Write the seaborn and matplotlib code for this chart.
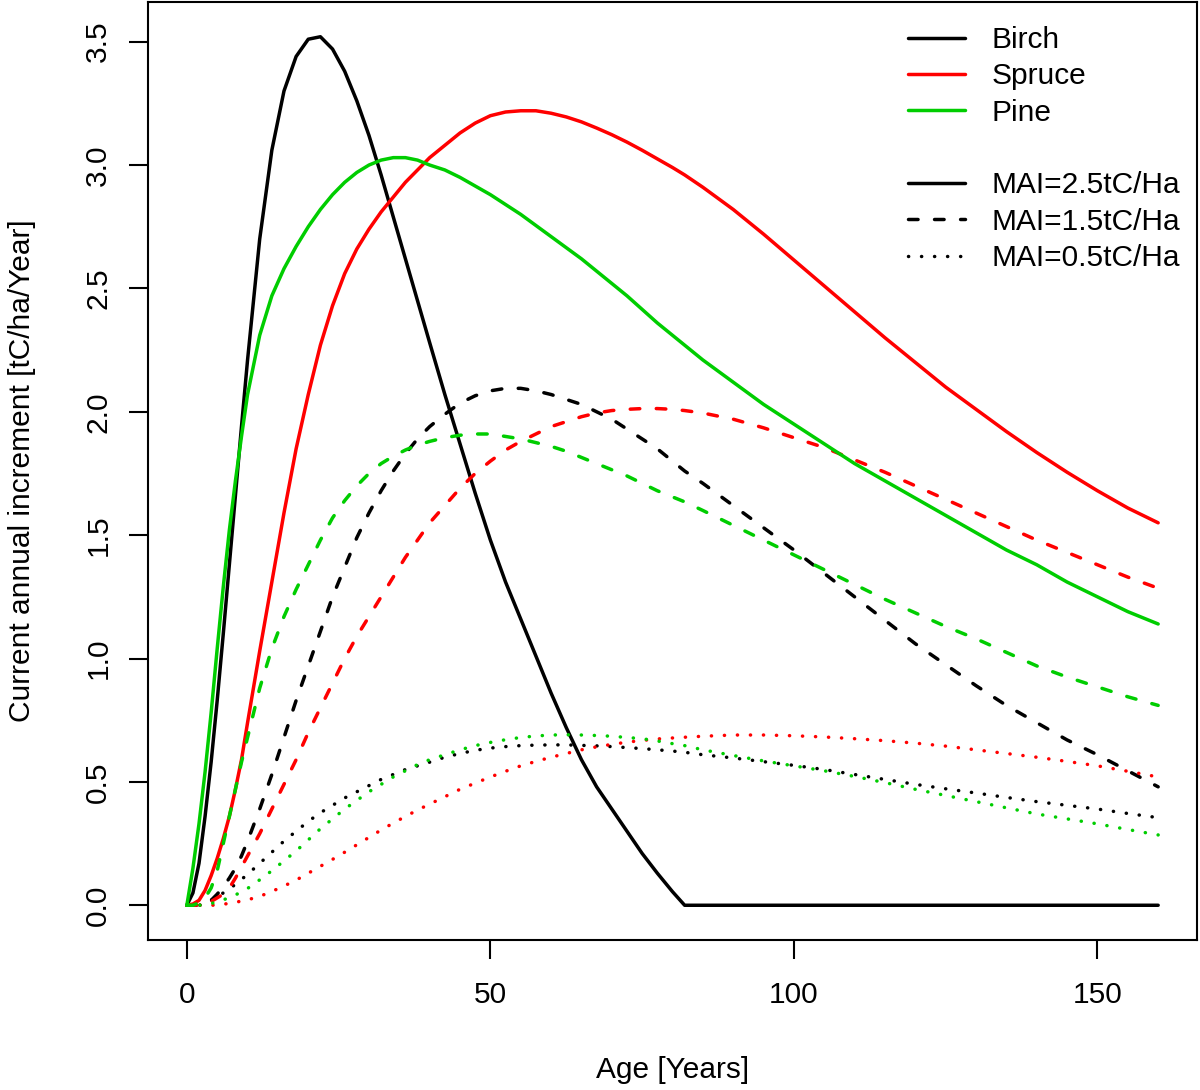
import numpy as np
import pandas as pd
import matplotlib
matplotlib.use("Agg")
import matplotlib.pyplot as plt
from matplotlib.lines import Line2D
import seaborn as sns

# ---------------- data ----------------
ages = ([0, 1, 2, 3, 4, 5, 6, 7, 8, 9, 10]
        + [12, 14, 16, 18, 20, 22, 24, 26, 28, 30, 32, 34, 36, 38, 40]
        + [42.5, 45, 47.5, 50, 52.5, 55, 57.5, 60, 62.5, 65, 67.5, 70, 72.5,
           75, 77.5, 80]
        + [82, 85, 90, 95, 100, 105, 110, 115, 120, 125, 130, 135, 140, 145,
           150, 155, 160])

birch_25 = ([0, 0.05, 0.17, 0.36, 0.58, 0.83, 1.10, 1.38, 1.66, 1.94, 2.21]
            + [2.70, 3.06, 3.30, 3.44, 3.51, 3.52, 3.47, 3.38, 3.26, 3.12, 2.96,
               2.79, 2.62, 2.45, 2.28]
            + [2.07, 1.87, 1.67, 1.48, 1.31, 1.16, 1.01, 0.86, 0.72, 0.59, 0.48,
               0.39, 0.30, 0.21, 0.13, 0.055]
            + [0, 0, 0, 0, 0, 0, 0, 0, 0, 0, 0, 0, 0, 0, 0, 0, 0])
spruce_25 = ([0, 0.005, 0.02, 0.06, 0.12, 0.19, 0.27, 0.36, 0.47, 0.59, 0.74]
             + [1.03, 1.31, 1.59, 1.85, 2.07, 2.27, 2.43, 2.56, 2.66, 2.74, 2.81,
                2.87, 2.93, 2.98, 3.03]
             + [3.08, 3.13, 3.17, 3.20, 3.215, 3.22, 3.22, 3.21, 3.195, 3.175,
                3.15, 3.123, 3.093, 3.06, 3.025, 2.99]
             + [2.96, 2.91, 2.82, 2.72, 2.615, 2.51, 2.405, 2.30, 2.20, 2.10,
                2.01, 1.92, 1.835, 1.755, 1.68, 1.61, 1.55])
pine_25 = ([0, 0.15, 0.33, 0.54, 0.78, 1.04, 1.29, 1.52, 1.72, 1.90, 2.07]
           + [2.31, 2.47, 2.58, 2.67, 2.75, 2.82, 2.88, 2.93, 2.97, 3.00, 3.02,
              3.03, 3.03, 3.02, 3.00]
           + [2.98, 2.95, 2.915, 2.88, 2.84, 2.80, 2.755, 2.71, 2.665, 2.62,
              2.57, 2.52, 2.47, 2.415, 2.36, 2.31]
           + [2.27, 2.21, 2.12, 2.03, 1.95, 1.87, 1.79, 1.72, 1.65, 1.58, 1.51,
              1.44, 1.38, 1.31, 1.25, 1.19, 1.14])

birch_15 = ([0, 0, 0, 0.005, 0.02, 0.045, 0.075, 0.11, 0.15, 0.20, 0.26]
            + [0.39, 0.53, 0.68, 0.83, 0.97, 1.11, 1.25, 1.37, 1.49, 1.59, 1.68,
               1.76, 1.83, 1.89, 1.94]
            + [1.99, 2.035, 2.065, 2.085, 2.095, 2.095, 2.085, 2.07, 2.05, 2.03,
               2.00, 1.97, 1.93, 1.89, 1.85, 1.80]
            + [1.76, 1.71, 1.62, 1.53, 1.44, 1.345, 1.25, 1.155, 1.06, 0.975,
               0.89, 0.81, 0.74, 0.67, 0.61, 0.545, 0.48])
spruce_15 = ([0, 0, 0, 0.005, 0.015, 0.03, 0.045, 0.07, 0.11, 0.155, 0.20]
             + [0.29, 0.39, 0.49, 0.59, 0.70, 0.80, 0.90, 1.00, 1.09, 1.17, 1.25,
                1.33, 1.41, 1.48, 1.55]
             + [1.62, 1.69, 1.75, 1.80, 1.845, 1.88, 1.91, 1.94, 1.96, 1.98,
                1.995, 2.005, 2.01, 2.013, 2.013, 2.01]
             + [2.005, 1.995, 1.97, 1.935, 1.895, 1.855, 1.805, 1.755, 1.70,
                1.645, 1.59, 1.535, 1.48, 1.43, 1.38, 1.33, 1.285])
pine_15 = ([0, 0, 0.01, 0.03, 0.07, 0.14, 0.25, 0.36, 0.47, 0.58, 0.68]
           + [0.88, 1.04, 1.17, 1.28, 1.38, 1.48, 1.57, 1.64, 1.70, 1.75, 1.79,
              1.82, 1.845, 1.865, 1.88]
           + [1.895, 1.905, 1.91, 1.91, 1.90, 1.89, 1.875, 1.86, 1.84, 1.815,
              1.79, 1.765, 1.74, 1.71, 1.68, 1.655]
           + [1.635, 1.60, 1.54, 1.48, 1.42, 1.36, 1.30, 1.24, 1.185, 1.13, 1.08,
              1.025, 0.97, 0.925, 0.885, 0.845, 0.81])

birch_05 = ([0, 0, 0, 0.005, 0.02, 0.035, 0.05, 0.066, 0.085, 0.105, 0.125]
            + [0.17, 0.215, 0.26, 0.30, 0.34, 0.375, 0.405, 0.435, 0.46, 0.485,
               0.51, 0.53, 0.55, 0.565, 0.58]
            + [0.60, 0.615, 0.628, 0.637, 0.643, 0.647, 0.649, 0.65, 0.65,
               0.648, 0.646, 0.643, 0.639, 0.635, 0.63, 0.625]
            + [0.62, 0.61, 0.597, 0.582, 0.567, 0.55, 0.53, 0.51, 0.49, 0.472,
               0.455, 0.437, 0.42, 0.405, 0.39, 0.372, 0.355])
spruce_05 = ([0, 0, 0, 0, 0, 0.001, 0.004, 0.008, 0.012, 0.017, 0.022]
             + [0.036, 0.056, 0.078, 0.102, 0.13, 0.158, 0.186, 0.215, 0.245,
                0.275, 0.305, 0.333, 0.36, 0.386, 0.41]
             + [0.44, 0.47, 0.495, 0.52, 0.543, 0.565, 0.583, 0.60, 0.615, 0.63,
                0.642, 0.652, 0.661, 0.668, 0.674, 0.678]
             + [0.681, 0.685, 0.69, 0.69, 0.687, 0.682, 0.675, 0.667, 0.657,
                0.645, 0.63, 0.615, 0.60, 0.583, 0.565, 0.543, 0.52])
pine_05 = ([0, 0, 0, 0.002, 0.007, 0.014, 0.022, 0.031, 0.042, 0.054, 0.068]
           + [0.103, 0.14, 0.18, 0.22, 0.265, 0.31, 0.35, 0.39, 0.425, 0.46,
              0.49, 0.52, 0.545, 0.57, 0.59]
           + [0.61, 0.63, 0.647, 0.66, 0.671, 0.68, 0.686, 0.69, 0.691, 0.69,
              0.688, 0.685, 0.68, 0.675, 0.666, 0.655]
           + [0.647, 0.63, 0.607, 0.585, 0.565, 0.545, 0.522, 0.497, 0.47,
              0.445, 0.42, 0.395, 0.37, 0.35, 0.33, 0.307, 0.285])

species = ["Birch", "Spruce", "Pine"]
mai_levels = ["MAI=2.5tC/Ha", "MAI=1.5tC/Ha", "MAI=0.5tC/Ha"]
series = {
    ("Birch", "MAI=2.5tC/Ha"): birch_25,
    ("Birch", "MAI=1.5tC/Ha"): birch_15,
    ("Birch", "MAI=0.5tC/Ha"): birch_05,
    ("Spruce", "MAI=2.5tC/Ha"): spruce_25,
    ("Spruce", "MAI=1.5tC/Ha"): spruce_15,
    ("Spruce", "MAI=0.5tC/Ha"): spruce_05,
    ("Pine", "MAI=2.5tC/Ha"): pine_25,
    ("Pine", "MAI=1.5tC/Ha"): pine_15,
    ("Pine", "MAI=0.5tC/Ha"): pine_05,
}
x_ticks = [0, 50, 100, 150]
y_ticks = [0.0, 0.5, 1.0, 1.5, 2.0, 2.5, 3.0, 3.5]

rows = []
for (sp, mai), vals in series.items():
    assert len(vals) == len(ages), (sp, mai, len(vals))
    for a, v in zip(ages, vals):
        rows.append({"Age": a, "CAI": v, "Species": sp, "MAI": mai})
df = pd.DataFrame(rows)

# ---------------- style ----------------
sns.set_style("ticks", rc={"text.color": "black", "axes.labelcolor": "black",
                           "xtick.color": "black", "ytick.color": "black",
                           "axes.edgecolor": "black"})
plt.rcParams["font.family"] = ["Liberation Sans", "DejaVu Sans"]
FS = 21.5
plt.rcParams["font.size"] = FS

palette = {"Birch": "#000000", "Spruce": "#FF0000", "Pine": "#00CD00"}
dashes = {"MAI=2.5tC/Ha": "", "MAI=1.5tC/Ha": (2.75, 4.75),
          "MAI=0.5tC/Ha": (0.05, 3.7)}
LW = 2.5

fig = plt.figure(figsize=(12, 10.9), dpi=100)
ax = fig.add_axes([148 / 1200, 1 - 940 / 1090, 1049 / 1200, 938 / 1090])

sns.lineplot(data=df, x="Age", y="CAI", hue="Species", style="MAI",
             hue_order=species, style_order=mai_levels, palette=palette,
             dashes=dashes, linewidth=LW, errorbar=None, legend=False,
             estimator=None, sort=True, ax=ax)
for ln in ax.lines:
    ln.set_dash_capstyle("round")
    ln.set_solid_capstyle("round")
    ln.set_solid_joinstyle("round")
    ln.set_dash_joinstyle("round")

ax.set_xlim(-6.4, 166.4)
ax.set_ylim(-0.1408, 3.6608)
ax.set_xticks(x_ticks)
ax.set_xticklabels([str(t) for t in x_ticks])
ax.set_yticks(y_ticks)
ax.set_yticklabels([f"{t:.1f}" for t in y_ticks], rotation=90, va="center")

for s in ax.spines.values():
    s.set_visible(True)
    s.set_linewidth(1.5)
    s.set_color("black")
ax.tick_params(axis="both", direction="out", length=13.7, width=1.5,
               color="black", labelsize=FS, labelcolor="black")
ax.tick_params(axis="x", pad=16)
ax.tick_params(axis="y", pad=12)

ax.set_xlabel("Age [Years]", fontsize=FS, va="center", color="black")
ax.xaxis.set_label_coords(0.5, -0.1386)
ax.set_ylabel("Current annual increment [tC/ha/Year]", fontsize=FS,
              va="center", ha="center", color="black")
ax.yaxis.set_label_coords(-0.1201, 0.5)

# ---------------- legend ----------------
handles = [Line2D([], [], color=palette[s], lw=LW) for s in species]
handles.append(Line2D([], [], color="none", lw=0))
for m in mai_levels:
    h = Line2D([], [], color="black", lw=LW, dash_capstyle="round")
    if dashes[m]:
        h.set_dashes(dashes[m])
    handles.append(h)
labels = species + [""] + mai_levels
leg = ax.legend(handles, labels, loc="upper left",
                bbox_to_anchor=(0.7245, 0.9744), frameon=False, borderpad=0,
                borderaxespad=0, handlelength=1.9, handletextpad=0.9,
                labelspacing=0.28, fontsize=FS)
for t in leg.get_texts():
    t.set_color("black")

fig.savefig("out.png", dpi=100)
